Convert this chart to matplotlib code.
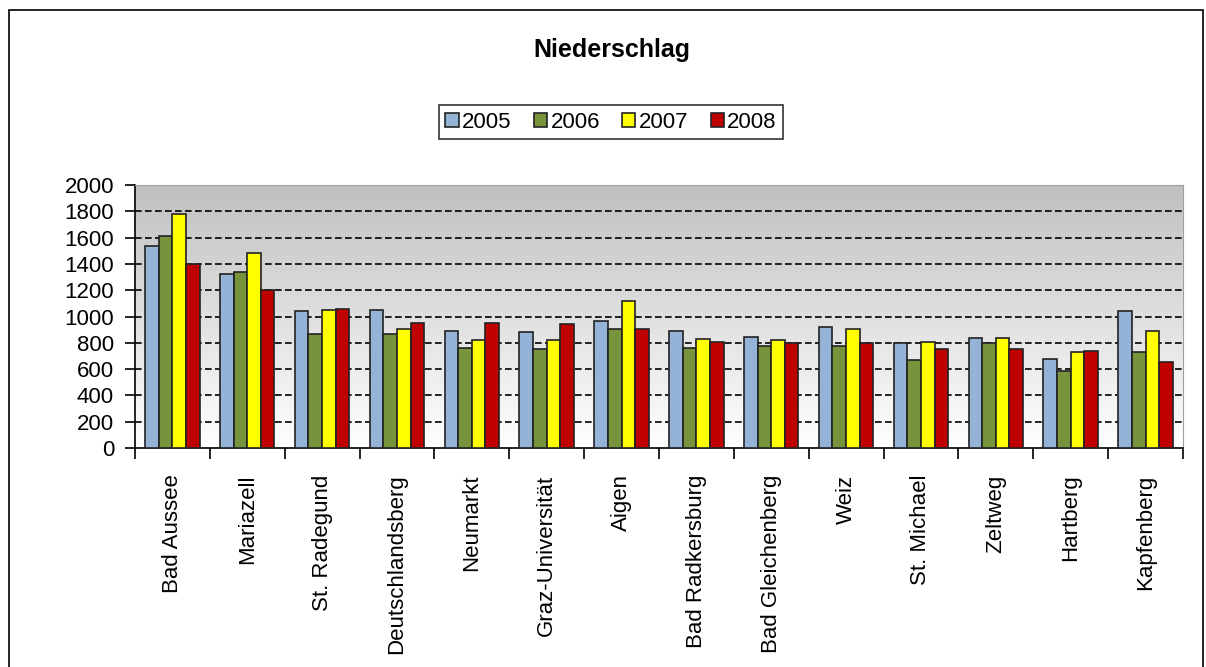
import numpy as np
import matplotlib
matplotlib.use("Agg")
import matplotlib.pyplot as plt
from matplotlib.patches import Rectangle

plt.rcParams['font.family'] = ['Liberation Sans', 'DejaVu Sans']

stations = ['Bad Aussee', 'Mariazell', 'St. Radegund', 'Deutschlandsberg', 'Neumarkt',
            'Graz-Universität', 'Aigen', 'Bad Radkersburg', 'Bad Gleichenberg', 'Weiz',
            'St. Michael', 'Zeltweg', 'Hartberg', 'Kapfenberg']
years = ['2005', '2006', '2007', '2008']
rain_2005 = [1540, 1320, 1040, 1050, 890, 880, 965, 890, 845, 920, 800, 835, 680, 1040]
rain_2006 = [1610, 1340, 870, 870, 760, 750, 905, 760, 775, 775, 670, 800, 585, 730]
rain_2007 = [1780, 1480, 1050, 905, 820, 820, 1120, 830, 820, 905, 810, 835, 730, 890]
rain_2008 = [1400, 1200, 1060, 950, 950, 940, 905, 810, 800, 800, 750, 750, 740, 655]
colors = ['#95b3d7', '#77933c', '#ffff00', '#c00000']

fig = plt.figure(figsize=(12.06, 6.67), dpi=100)
ax = fig.add_axes([0.1119, 0.3283, 0.869, 0.3943])

# outer chart frame
fig.patches.append(Rectangle((9 / 1206, -0.05), 1194 / 1206, 1.05 - 10 / 667, transform=fig.transFigure,
                             fill=False, edgecolor='black', linewidth=1.2))

# gradient background (gray at top, white at bottom)
grad = np.linspace(1, 0, 256).reshape(-1, 1)
ax.imshow(grad, extent=[-0.5, len(stations) - 0.5, 0, 2000], aspect='auto',
          cmap=matplotlib.colors.LinearSegmentedColormap.from_list('bg', ['#ffffff', '#c0c0c0']),
          zorder=0, origin='upper')

x = np.arange(len(stations))
w = 0.182
series = [rain_2005, rain_2006, rain_2007, rain_2008]
for i, (vals, c, yr) in enumerate(zip(series, colors, years)):
    ax.bar(x + (i - 1.5) * w, vals, width=w, color=c, edgecolor='#222222', linewidth=1.2,
           label=yr, zorder=3)

ax.set_xlim(-0.5, len(stations) - 0.5)
ax.set_ylim(0, 2000)
ax.set_yticks(range(0, 2001, 200))
for y in range(200, 2000, 200):
    ax.axhline(y, color='black', linestyle=(0, (4, 2)), linewidth=1.2, zorder=1)

ax.set_xticks(x)
ax.set_xticklabels(stations, rotation=90, va='top', ha='center')
ax.tick_params(axis='x', length=0, pad=19, labelsize=16)
ax.set_xticks(np.arange(-0.5, len(stations)), minor=True)
ax.tick_params(axis='x', which='minor', length=8, width=1.2, direction='out')
ax.tick_params(axis='y', length=7, width=1.2, direction='out', pad=8, labelsize=16)

for side in ['top', 'right']:
    ax.spines[side].set_color('#a0a0a0')
for side in ['left', 'bottom']:
    ax.spines[side].set_color('black')
    ax.spines[side].set_linewidth(1.2)

fig.text(0.5075, 0.925, 'Niederschlag', ha='center', va='center', fontsize=18, fontweight='bold')

leg = ax.legend(loc='center', bbox_to_anchor=(611 / 1206, 1 - 122 / 667), bbox_transform=fig.transFigure,
                ncol=4, fontsize=16, frameon=True, fancybox=False, handlelength=0.6, handleheight=0.6,
                handletextpad=0.15, columnspacing=1.0, borderpad=0.3)
leg.get_frame().set_edgecolor('black')
leg.get_frame().set_linewidth(1.2)

fig.savefig('out.png', dpi=100)
